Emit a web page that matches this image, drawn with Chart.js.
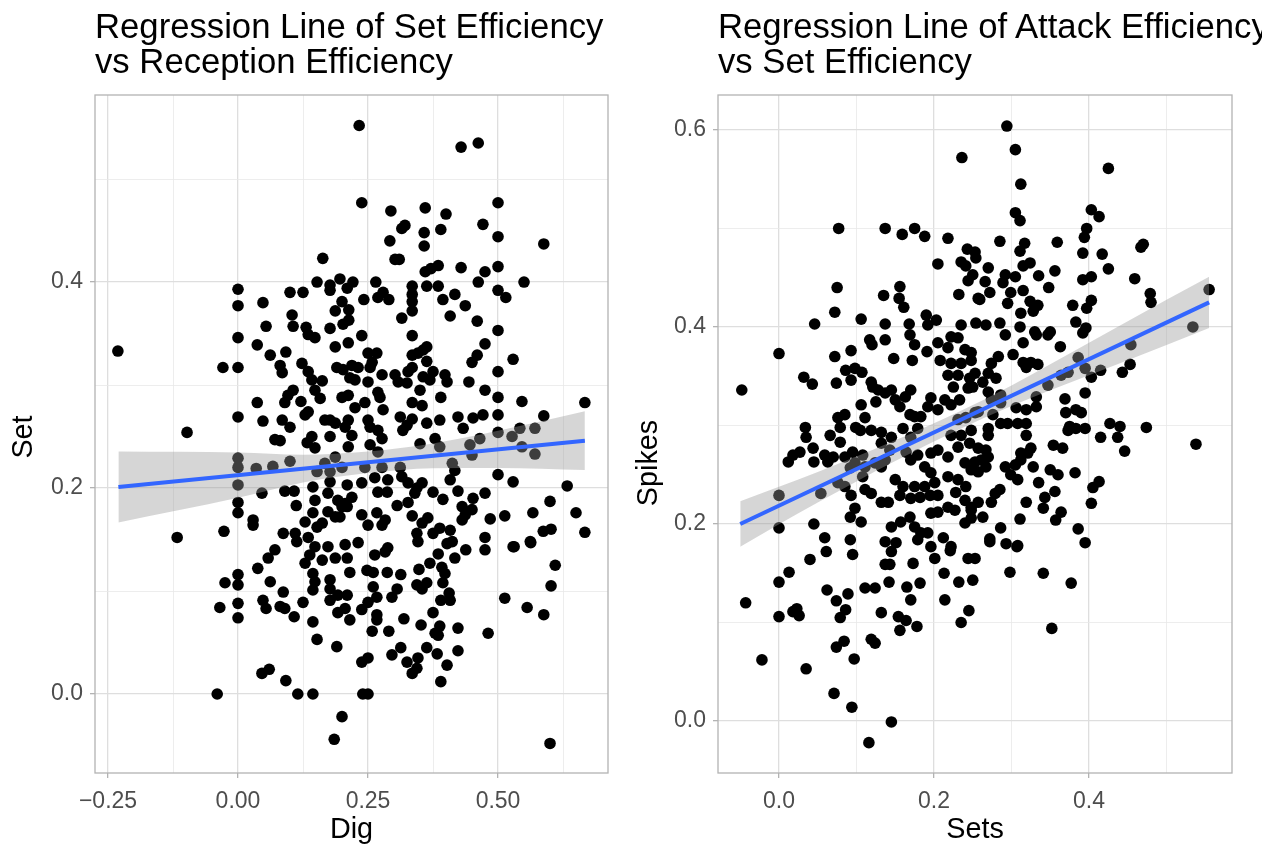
<!DOCTYPE html>
<html>
<head>
<meta charset="utf-8">
<script src="https://cdn.jsdelivr.net/npm/chart.js@4.4.1/dist/chart.umd.min.js"></script>
<style>
  html, body { margin: 0; padding: 0; background: #fff; overflow: hidden; }
  #wrap { position: relative; width: 1262px; height: 844px; overflow: hidden; }
  canvas { position: absolute; top: 0; }
  .title { position: absolute; top: 9px; font-family: 'Liberation Sans', Arial, sans-serif; font-size: 34.7px; line-height: 35px; color: #000; white-space: nowrap; }
</style>
</head>
<body>
<div id="wrap">
  <canvas id="left-chart" width="631" height="844" style="left:0"></canvas>
  <canvas id="right-chart" width="631" height="844" style="left:631px"></canvas>
  <div class="title" style="left:95px">Regression Line of Set Efficiency<br>vs Reception Efficiency</div>
  <div class="title" style="left:718px">Regression Line of Attack Efficiency<br>vs Set Efficiency</div>
</div>
<script>
'use strict';

// --- datos: panel izquierdo (Dig vs Set) ---
const digSet = [
  [0.233,0.552],[0.163,0.423],[0,0.393],[0,0.377],[0.048,0.38],[0.1,0.39],[0.125,0.39],[0.152,0.4],[0.177,0.397],[0.196,0.403],
  [0.177,0.392],[0.21,0.394],[0.221,0.4],[0.2,0.381],[0.187,0.372],[0.213,0.373],[0.104,0.368],[0.054,0.357],[0.106,0.357],[0.131,0.356],
  [0.177,0.355],[0.202,0.359],[0.429,0.531],[0.462,0.535],[0.238,0.477],[0.294,0.469],[0.36,0.472],[0.4,0.466],[0.5,0.477],[0.471,0.456],
  [0.321,0.455],[0.315,0.452],[0.358,0.448],[0.39,0.451],[0.292,0.44],[0.358,0.435],[0.5,0.444],[0.588,0.437],[0.302,0.422],[0.31,0.422],
  [0.36,0.41],[0.371,0.413],[0.385,0.416],[0.429,0.414],[0.475,0.41],[0.5,0.415],[0.55,0.4],[0.462,0.4],[0.363,0.396],[0.385,0.396],
  [0.335,0.396],[0.335,0.388],[0.335,0.381],[0.335,0.372],[0.315,0.365],[0.265,0.4],[0.279,0.39],[0.242,0.383],[0.269,0.385],[0.29,0.383],
  [0.213,0.363],[0.417,0.388],[0.394,0.383],[0.437,0.377],[0.5,0.392],[0.515,0.385],[0.408,0.367],[0.46,0.362],[0.5,0.353],
  [-0.231,0.333],[0,0.346],[0.037,0.339],[-0.029,0.317],[0,0.317],[0.062,0.329],[0.092,0.332],[0.081,0.319],[0.085,0.312],[0.037,0.283],
  [0,0.269],[0.048,0.265],[0.085,0.266],[0.1,0.259],[-0.098,0.254],[0.071,0.247],[0.081,0.246],[0.09,0.283],[0.106,0.295],[0.096,0.29],
  [0.121,0.284],[0.135,0.274],[0.129,0.271],[0,0.229],[0,0.22],[0,0.203],[0,0.186],[0,0.176],[0.035,0.219],[0.067,0.221],
  [0.1,0.226],[0.046,0.195],[0.029,0.169],[0.029,0.164],[-0.027,0.158],[-0.117,0.152],[0.09,0.197],[0.108,0.197],[0.112,0.183],[0.129,0.167],
  [0.144,0.201],[0.148,0.188],[0.144,0.176],[0.087,0.156],[0.11,0.156],[0.113,0.148],[0.135,0.152],[0.142,0.25],[0.133,0.244],[0.148,0.239],
  [0.167,0.266],[0.177,0.25],[0.187,0.337],[0.2,0.288],[0.123,0.321],[0.135,0.313],[0.142,0.305],[0.148,0.295],[0.158,0.287],[0.162,0.304],
  [0.19,0.317],[0.202,0.315],[0.219,0.319],[0.215,0.307],[0.135,0.349],[0.148,0.346],[0.212,0.341],[0.167,0.224],[0.177,0.216],[0.2,0.22],
  [0.152,0.216],[0.177,0.206],[0.21,0.203],[0.173,0.195],[0.192,0.188],[0.206,0.185],[0.2,0.182],[0.173,0.177],[0.187,0.172],[0.196,0.172],
  [0.152,0.162],[0.162,0.166],[0.187,0.23],[0.212,0.24],[0.206,0.259],[0.187,0.263],[0.177,0.266],[0.212,0.266],[0.219,0.251],[0.148,0.143],
  [0.173,0.143],[0.206,0.145],[0.071,0.14],
  [0.238,0.348],[0.335,0.348],[0.475,0.34],[0.46,0.329],[0.45,0.322],[0.529,0.325],[0.5,0.313],[0.444,0.303],[0.475,0.295],[0.5,0.288],
  [0.546,0.284],[0.667,0.283],[0.588,0.27],[0.5,0.271],[0.471,0.271],[0.452,0.268],[0.423,0.269],[0.433,0.258],[0.5,0.254],[0.527,0.25],
  [0.542,0.258],[0.571,0.258],[0.546,0.24],[0.571,0.233],[0.465,0.248],[0.446,0.242],[0.45,0.232],[0.412,0.224],[0.417,0.217],[0.388,0.24],
  [0.379,0.248],[0.388,0.266],[0.363,0.263],[0.39,0.288],[0.35,0.295],[0.335,0.283],[0.354,0.28],[0.335,0.267],[0.312,0.269],[0.317,0.256],
  [0.325,0.261],[0.35,0.243],[0.5,0.213],[0.529,0.206],[0.633,0.202],[0.6,0.187],[0.65,0.176],[0.667,0.157],[0.567,0.176],[0.513,0.173],
  [0.485,0.17],[0.475,0.195],[0.452,0.19],[0.423,0.197],[0.408,0.208],[0.375,0.196],[0.394,0.189],[0.431,0.182],[0.45,0.179],[0.431,0.169],
  [0.437,0.174],[0.587,0.158],[0.602,0.16],[0.562,0.148],[0.529,0.143],[0.475,0.152],[0.408,0.159],[0.388,0.161],[0.365,0.171],[0.354,0.166],
  [0.375,0.156],[0.412,0.148],[0.344,0.156],[0.346,0.148],[0.327,0.186],[0.306,0.183],[0.335,0.173],[0.34,0.195],[0.327,0.205],[0.315,0.211],
  [0.288,0.208],[0.269,0.196],[0.287,0.196],[0.263,0.21],[0.238,0.205],[0.219,0.191],[0.21,0.182],[0.238,0.174],[0.267,0.176],[0.283,0.169],
  [0.25,0.164],[0.277,0.164],[0.231,0.147],[0.288,0.142],[0.312,0.22],[0.277,0.22],[0.244,0.22],[0.269,0.235],[0.277,0.248],[0.254,0.242],
  [0.244,0.283],[0.225,0.278],[0.25,0.266],[0.254,0.259],[0.269,0.256],[0.269,0.293],[0.273,0.288],[0.279,0.276],[0.212,0.29],[0.225,0.305],
  [0.25,0.303],[0.277,0.31],[0.231,0.317],[0.254,0.317],[0.25,0.331],[0.267,0.331],[0.258,0.322],[0.302,0.31],[0.308,0.303],[0.325,0.302],
  [0.327,0.313],[0.335,0.317],[0.335,0.329],[0.346,0.331],[0.356,0.334],[0.363,0.337],[0.363,0.323],[0.356,0.308],[0.369,0.305],[0.375,0.313],
  [0.398,0.31],[0.402,0.303],[0.354,0.205],[0.344,0.2],
  [0,0.116],[0,0.106],[-0.025,0.108],[0,0.088],[-0.035,0.084],[0,0.074],[0.038,0.122],[0.058,0.132],[0.062,0.109],[0.087,0.099],
  [0.048,0.091],[0.054,0.083],[0.081,0.085],[0.09,0.083],[0.108,0.075],[0.125,0.089],[0.129,0.127],[0.138,0.135],[0.162,0.13],[0.187,0.132],
  [0.21,0.132],[0.215,0.118],[0.144,0.117],[0.148,0.109],[0.144,0.101],[0.177,0.111],[0.177,0.102],[0.192,0.096],[0.21,0.096],[0.177,0.091],
  [0.206,0.083],[0.192,0.079],[0.215,0.072],[0.144,0.07],[0.152,0.053],[0.19,0.046],[0.046,0.02],[0.06,0.024],[0.092,0.013],[0.115,0],
  [0.144,0],[-0.04,0],[0.2,-0.022],[0.185,-0.044],
  [0.24,0],[0.25,0],[0.6,-0.048],[0.61,0.125],[0.602,0.105],[0.513,0.093],[0.556,0.084],[0.588,0.077],[0.481,0.059],[0.531,0.143],
  [0.563,0.147],[0.475,0.14],[0.438,0.14],[0.417,0.132],[0.385,0.136],[0.369,0.127],[0.402,0.146],[0.392,0.123],[0.398,0.117],[0.394,0.108],
  [0.348,0.121],[0.313,0.116],[0.287,0.118],[0.26,0.118],[0.248,0.12],[0.263,0.135],[0.283,0.138],[0.344,0.106],[0.363,0.108],[0.354,0.102],
  [0.306,0.102],[0.296,0.094],[0.26,0.104],[0.267,0.094],[0.25,0.089],[0.238,0.082],[0.267,0.077],[0.267,0.072],[0.258,0.061],[0.29,0.061],
  [0.319,0.073],[0.352,0.067],[0.375,0.079],[0.39,0.091],[0.408,0.091],[0.406,0.098],[0.423,0.064],[0.388,0.066],[0.385,0.057],[0.379,0.059],
  [0.313,0.045],[0.296,0.038],[0.325,0.031],[0.346,0.035],[0.344,0.025],[0.335,0.02],[0.363,0.045],[0.383,0.039],[0.423,0.042],[0.402,0.028],
  [0.39,0.012],[0.238,0.031],[0.25,0.035]
];
const digFitX = [-0.23, 0.667];
const digFitY = [0.201, 0.246];
const digBandX = [-0.23, 0, 0.125, 0.25, 0.375, 0.5, 0.667];
const digBandLow = [0.1665, 0.1905, 0.2053, 0.2145, 0.2193, 0.2195, 0.2175];
const digBandHigh = [0.2355, 0.2345, 0.2323, 0.2355, 0.2433, 0.2555, 0.2745];
const digMajor = [-0.25, 0, 0.25, 0.5];
const digMinor = [-0.125, 0.125, 0.375, 0.625];
const digLabels = ['\u22120.25', '0.00', '0.25', '0.50'];
const setMajor = [0, 0.2, 0.4];
const setMinor = [0.1, 0.3, 0.5];
const setLabels = ['0.0', '0.2', '0.4'];

// --- datos: panel derecho (Sets vs Spikes) ---
const setsSpikes = [
  [0.236,0.572],[0.077,0.5],[0.137,0.5],[0.159,0.494],[0.175,0.5],[0.188,0.492],[0.218,0.49],[0.243,0.479],[0.253,0.476],[0.235,0.466],
  [0.241,0.462],[0.205,0.464],[0.25,0.453],[0.244,0.447],[0.232,0.433],[0.257,0.429],[0.075,0.44],[0.072,0.415],[0.135,0.432],[0.156,0.441],
  [0.155,0.429],[0.161,0.42],[0.106,0.408],[0.046,0.403],[0.137,0.403],[0.168,0.403],[0.19,0.412],[0.203,0.407],[0.192,0.402],[0.235,0.402],
  [0.254,0.404],
  [0.294,0.604],[0.305,0.58],[0.312,0.545],[0.425,0.561],[0.305,0.516],[0.311,0.508],[0.403,0.519],[0.413,0.512],[0.397,0.5],[0.394,0.491],
  [0.285,0.487],[0.317,0.485],[0.311,0.477],[0.359,0.486],[0.47,0.484],[0.467,0.481],[0.392,0.475],[0.417,0.474],[0.425,0.459],[0.356,0.457],
  [0.335,0.452],[0.348,0.44],[0.324,0.465],[0.315,0.462],[0.305,0.451],[0.292,0.453],[0.289,0.445],[0.299,0.435],[0.315,0.437],[0.272,0.435],
  [0.259,0.428],[0.27,0.46],[0.266,0.446],[0.254,0.47],[0.392,0.448],[0.403,0.451],[0.459,0.449],[0.479,0.434],[0.48,0.425],[0.555,0.438],
  [0.534,0.4],[0.403,0.427],[0.397,0.419],[0.379,0.422],[0.383,0.405],[0.396,0.399],[0.324,0.426],[0.334,0.422],[0.328,0.416],[0.312,0.414],
  [0.295,0.424],[0.267,0.402],[0.285,0.404],[0.311,0.4],[0.35,0.395],[0.33,0.395],
  [-0.048,0.336],[0,0.373],[0.032,0.349],[0.043,0.342],[0.072,0.37],[0.093,0.376],[0.074,0.343],[0.086,0.356],[0.098,0.358],[0.107,0.354],
  [0.093,0.346],[0.119,0.344],[0.121,0.339],[0.117,0.387],[0.12,0.382],[0.137,0.387],[0.148,0.368],[0.172,0.366],[0.169,0.392],[0.175,0.382],
  [0.191,0.375],[0.205,0.384],[0.218,0.379],[0.231,0.389],[0.222,0.39],[0.24,0.377],[0.248,0.374],[0.208,0.366],[0.222,0.363],[0.235,0.363],
  [0.218,0.351],[0.231,0.351],[0.246,0.348],[0.244,0.338],[0.225,0.339],[0.214,0.326],[0.233,0.326],[0.222,0.321],[0.196,0.328],[0.192,0.319],
  [0.205,0.316],[0.128,0.336],[0.137,0.333],[0.145,0.336],[0.15,0.326],[0.163,0.329],[0.17,0.336],[0.156,0.319],[0.125,0.324],[0.106,0.321],
  [0.175,0.309],[0.183,0.309],[0.169,0.311],[0.076,0.308],[0.085,0.311],[0.079,0.298],[0.099,0.298],[0.111,0.308],[0.105,0.295],[0.119,0.295],
  [0.132,0.293],[0.145,0.288],[0.16,0.297],[0.179,0.297],[0.17,0.288],[0.034,0.298],[0.035,0.288],[0.066,0.29],[0.079,0.283],[0.044,0.277],
  [0.027,0.273],[0.018,0.27],[0.012,0.263],[0.045,0.263],[0.059,0.27],[0.07,0.268],[0.063,0.263],[0.085,0.268],[0.095,0.273],[0.108,0.27],
  [0.098,0.262],[0.092,0.257],[0.111,0.258],[0.124,0.262],[0.137,0.265],[0.132,0.258],[0.143,0.275],[0.132,0.282],[0.164,0.273],[0.17,0.265],
  [0.179,0.27],[0.188,0.258],[0.196,0.272],[0.205,0.275],[0.218,0.268],[0.231,0.278],[0.235,0.29],[0.222,0.29],[0.248,0.295],[0.231,0.306],
  [0.241,0.308],[0.253,0.313],[0.24,0.262],[0.248,0.255],[0.196,0.252],[0.218,0.248],[0.231,0.245],[0.241,0.238],[0.201,0.242],[0.188,0.238],
  [0.175,0.238],[0.16,0.238],[0.15,0.245],[0.156,0.229],[0.17,0.226],[0.182,0.227],[0.195,0.229],[0.205,0.229],[0.228,0.232],[0.24,0.224],
  [0.218,0.217],[0.227,0.214],[0.205,0.212],[0.196,0.211],[0.248,0.214],[0.248,0.206],[0.132,0.222],[0.141,0.222],[0.111,0.235],[0.119,0.231],
  [0.093,0.229],[0.085,0.238],[0.076,0.242],[0.108,0.248],[0.054,0.231],[0,0.229],[0.098,0.216],[0.092,0.207],[0.106,0.202],[0.045,0.2],
  [0,0.196],[0.059,0.186],[0.092,0.184],[0.137,0.182],[0.145,0.197],[0.157,0.202],[0.169,0.207],[0.175,0.197],[0.183,0.191],[0.192,0.191],
  [0.212,0.186],[0.24,0.201],[0.151,0.181],[0.196,0.177],[0.222,0.177],
  [0.454,0.382],[0.453,0.362],[0.443,0.354],[0.415,0.356],[0.403,0.349],[0.395,0.358],[0.386,0.369],[0.392,0.394],[0.373,0.354],[0.364,0.351],
  [0.347,0.341],[0.395,0.333],[0.369,0.327],[0.37,0.313],[0.383,0.316],[0.39,0.313],[0.375,0.299],[0.373,0.295],[0.383,0.297],[0.395,0.297],
  [0.427,0.302],[0.44,0.299],[0.437,0.288],[0.415,0.288],[0.474,0.298],[0.446,0.274],[0.538,0.281],[0.382,0.252],[0.413,0.243],[0.405,0.237],
  [0.403,0.221],[0.366,0.277],[0.354,0.28],[0.35,0.255],[0.36,0.25],[0.356,0.233],[0.343,0.227],[0.335,0.242],[0.328,0.258],[0.321,0.272],
  [0.312,0.272],[0.325,0.277],[0.319,0.29],[0.319,0.302],[0.308,0.302],[0.295,0.302],[0.286,0.302],[0.27,0.297],[0.27,0.29],[0.306,0.318],
  [0.332,0.319],[0.319,0.316],[0.332,0.329],[0.276,0.311],[0.257,0.314],[0.274,0.326],[0.286,0.323],[0.286,0.331],[0.27,0.334],[0.263,0.344],
  [0.28,0.348],[0.27,0.353],[0.274,0.363],[0.283,0.37],[0.302,0.372],[0.315,0.364],[0.319,0.359],[0.325,0.364],[0.334,0.362],[0.315,0.384],
  [0.292,0.392],[0.332,0.392],[0.347,0.392],[0.363,0.38],[0.248,0.366],[0.253,0.353],[0.25,0.339],[0.246,0.282],[0.257,0.277],[0.267,0.275],
  [0.27,0.268],[0.261,0.265],[0.253,0.263],[0.267,0.258],[0.257,0.253],[0.292,0.258],[0.305,0.26],[0.312,0.265],[0.299,0.25],[0.308,0.245],
  [0.285,0.235],[0.279,0.231],[0.274,0.222],[0.257,0.222],[0.248,0.217],[0.263,0.207],[0.319,0.222],[0.341,0.216],[0.364,0.212],[0.357,0.204],
  [0.311,0.205],[0.286,0.196],[0.272,0.185],[0.293,0.18],[0.308,0.178],[0.386,0.195],[0.395,0.181],
  [-0.043,0.12],[-0.022,0.062],[0,0.106],[0,0.141],[0.013,0.151],[0.04,0.164],[0.023,0.114],[0.026,0.107],[0.018,0.111],[0.035,0.053],
  [0.061,0.172],[0.062,0.133],[0.074,0.122],[0.089,0.129],[0.086,0.113],[0.079,0.105],[0.084,0.081],[0.074,0.075],[0.097,0.063],[0.071,0.028],
  [0.094,0.014],[0.116,-0.022],[0.145,-0.001],[0.095,0.169],[0.111,0.135],[0.124,0.135],[0.132,0.11],[0.119,0.083],[0.124,0.079],[0.142,0.141],
  [0.137,0.159],[0.143,0.159],[0.145,0.172],[0.173,0.16],[0.165,0.136],[0.17,0.123],[0.182,0.14],[0.154,0.106],[0.164,0.102],[0.178,0.096],
  [0.156,0.092],[0.201,0.165],[0.221,0.173],[0.213,0.15],[0.232,0.141],[0.214,0.123],[0.245,0.112],[0.235,0.1],[0.25,0.143],[0.244,0.165],
  [0.253,0.165],[0.179,0.184],
  [0.272,0.182],[0.307,0.177],[0.298,0.151],[0.341,0.15],[0.377,0.14],[0.352,0.094]
];
const setsFitX = [-0.05, 0.555];
const setsFitY = [0.200, 0.425];
const setsBandX = [-0.05, 0.05, 0.15, 0.23, 0.3, 0.4, 0.5, 0.555];
const setsBandLow = [0.177, 0.2217, 0.2639, 0.2952, 0.3197, 0.3509, 0.3816, 0.399];
const setsBandHigh = [0.223, 0.2527, 0.2849, 0.3132, 0.3407, 0.3839, 0.4276, 0.451];
const setsMajor = [0, 0.2, 0.4];
const setsMinor = [0.1, 0.3, 0.5];
const setsLabels = ['0.0', '0.2', '0.4'];
const spikesMajor = [0, 0.2, 0.4, 0.6];
const spikesMinor = [0.1, 0.3, 0.5];
const spikesLabels = ['0.0', '0.2', '0.4', '0.6'];

// --- estilo ---
const FONT = "'Liberation Sans', Arial, sans-serif";
const GRID = '#DEDEDE';
const FRAME = '#B3B3B3';

const panelBorder = {
    id: 'panelBorder',
    afterDraw(chart) {
        const { ctx, chartArea: a } = chart;
        ctx.save();
        ctx.strokeStyle = FRAME;
        ctx.lineWidth = 1.3;
        ctx.strokeRect(a.left, a.top, a.right - a.left, a.bottom - a.top);
        ctx.restore();
    }
};

// título del eje Y dibujado a mano (permite desplazarlo como en la referencia)
const yTitle = {
    id: 'yTitle',
    afterDraw(chart, args, opts) {
        if (!opts.text) return;
        const { ctx, chartArea: a } = chart;
        ctx.save();
        ctx.translate(opts.x, (a.top + a.bottom) / 2 + opts.shift);
        ctx.rotate(-Math.PI / 2);
        ctx.font = '28.75px ' + FONT;
        ctx.fillStyle = '#000';
        ctx.textAlign = 'center';
        ctx.textBaseline = 'middle';
        ctx.fillText(opts.text, 0, 0);
        ctx.restore();
    }
};

const zip = (xs, ys) => xs.map((x, i) => ({ x: x, y: ys[i] }));

function makeAxis(cfg) {
    const { min, max, major, minor, labels, title, size, horizontal } = cfg;
    const isMajor = v => major.includes(v);
    return {
        type: 'linear',
        min: min,
        max: max,
        afterBuildTicks: s => {
            s.ticks = major.concat(minor).sort((a, b) => a - b).map(v => ({ value: v }));
        },
        afterFit: s => {
            if (horizontal) s.height = size; else s.width = size;
            s.paddingLeft = s.paddingRight = s.paddingTop = s.paddingBottom = 0;
        },
        ticks: {
            autoSkip: false,
            maxRotation: 0,
            padding: horizontal ? 10 : 7,
            color: '#4D4D4D',
            font: { family: FONT, size: 23 },
            callback: v => {
                const i = major.indexOf(v);
                return i < 0 ? '' : labels[i];
            }
        },
        grid: {
            color: ctx => (ctx.tick && isMajor(ctx.tick.value)) ? GRID : '#E8E8E8',
            lineWidth: ctx => (ctx.tick && isMajor(ctx.tick.value)) ? 1.3 : 0.8,
            tickColor: ctx => (ctx.tick && isMajor(ctx.tick.value)) ? FRAME : 'rgba(0,0,0,0)',
            tickLength: 5,
            tickWidth: 1.3
        },
        border: { display: false },
        title: {
            display: horizontal,
            text: title,
            color: '#000',
            font: { family: FONT, size: 28.75 },
            padding: { top: 0, bottom: -3 }
        }
    };
}

function createPanel(canvasId, points, fitX, fitY, bandX, bandLow, bandHigh, xAxis, yAxis, rightPad, yTitleOpts) {
    const ctx = document.getElementById(canvasId).getContext('2d');
    return new Chart(ctx, {
        type: 'line',
        data: {
            datasets: [
                {
                    data: zip(fitX, fitY),
                    borderColor: '#3366FF',
                    borderWidth: 4,
                    pointRadius: 0,
                    fill: false,
                    order: 1
                },
                {
                    data: zip(bandX, bandHigh),
                    borderWidth: 0,
                    borderColor: 'rgba(0,0,0,0)',
                    pointRadius: 0,
                    cubicInterpolationMode: 'monotone',
                    backgroundColor: 'rgba(153,153,153,0.4)',
                    fill: '+1',
                    order: 2
                },
                {
                    data: zip(bandX, bandLow),
                    borderWidth: 0,
                    borderColor: 'rgba(0,0,0,0)',
                    pointRadius: 0,
                    cubicInterpolationMode: 'monotone',
                    fill: false,
                    order: 2
                },
                {
                    data: points.map(p => ({ x: p[0], y: p[1] })),
                    showLine: false,
                    pointRadius: 5.8,
                    pointBorderWidth: 0,
                    pointBackgroundColor: '#000',
                    pointHoverRadius: 5.8,
                    order: 3
                }
            ]
        },
        options: {
            responsive: false,
            animation: false,
            events: [],
            layout: { padding: { top: 95, right: rightPad, bottom: 0, left: 0 } },
            plugins: { legend: { display: false }, tooltip: { enabled: false }, yTitle: yTitleOpts },
            scales: { x: xAxis, y: yAxis }
        },
        plugins: [panelBorder, yTitle]
    });
}

createPanel('left-chart', digSet, digFitX, digFitY, digBandX, digBandLow, digBandHigh,
    makeAxis({ min: -0.275, max: 0.7115, major: digMajor, minor: digMinor, labels: digLabels, title: 'Dig', size: 71, horizontal: true }),
    makeAxis({ min: -0.0767, max: 0.5816, major: setMajor, minor: setMinor, labels: setLabels, title: 'Set', size: 95, horizontal: false }),
    23, { text: 'Set', x: 24, shift: 3 });

createPanel('right-chart', setsSpikes, setsFitX, setsFitY, setsBandX, setsBandLow, setsBandHigh,
    makeAxis({ min: -0.0787, max: 0.5845, major: setsMajor, minor: setsMinor, labels: setsLabels, title: 'Sets', size: 71, horizontal: true }),
    makeAxis({ min: -0.0528, max: 0.6355, major: spikesMajor, minor: spikesMinor, labels: spikesLabels, title: 'Spikes', size: 87, horizontal: false }),
    30, { text: 'Spikes', x: 18, shift: 29 });
</script>
</body>
</html>
